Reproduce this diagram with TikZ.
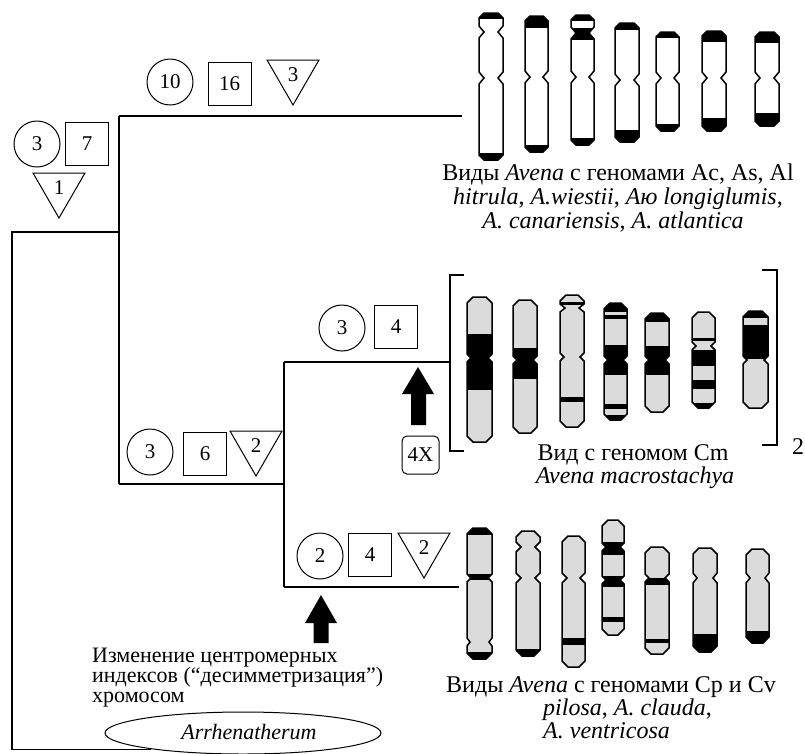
\documentclass[tikz,border=0pt]{standalone}
\usepackage{fontspec}
\setmainfont{Liberation Serif}
\usetikzlibrary{shapes.geometric}
\definecolor{cg}{gray}{0.86}
\tikzset{
  lab/.style={font=\fontsize{21}{21}\selectfont, inner sep=0pt},
  circ/.style={lab, draw, circle, minimum size=46pt, line width=1pt},
  sq/.style={lab, draw, minimum size=43pt, line width=1pt},
  tri/.style={lab, draw, regular polygon, regular polygon sides=3, shape border rotate=180, minimum size=60pt, line width=1pt},
  txt/.style={font=\fontsize{24}{24}\selectfont, inner sep=0pt},
  txtsmall/.style={font=\fontsize{22}{22}\selectfont, inner sep=0pt},
  tree/.style={line width=1.2pt},
  chromline/.style={line width=1.5pt, line join=miter},
  blockarrow/.style={fill=black},
}
\newcommand\chrom[8]{%
  \pgfmathsetmacro\cxl{#1}%
  \pgfmathsetmacro\cxr{#1+#2}%
  \pgfmathsetmacro\cxa{#1+#8}%
  \pgfmathsetmacro\cxb{#1+#2-#8}%
  \pgfmathsetmacro\cyt{#3}%
  \pgfmathsetmacro\cyb{#4}%
  \pgfmathsetmacro\cyta{#3+#8}%
  \pgfmathsetmacro\cybb{#4-#8}%
  \def\cnl{#5}%
  \foreach \a [count=\i] in {#5} {\ifnum\i=1 \xdef\crev{\a}\else\xdef\crev{\a,\crev}\fi}%
  \def\chpath{(\cxa,\cyt) -- (\cxb,\cyt) -- (\cxr,\cyta)
    foreach \ny/\nd/\nh in \cnl {-- (\cxr,\ny-\nh) -- (\cxr-\nd,\ny) -- (\cxr,\ny+\nh)}
    -- (\cxr,\cybb) -- (\cxb,\cyb) -- (\cxa,\cyb) -- (\cxl,\cybb)
    foreach \ny/\nd/\nh in \crev {-- (\cxl,\ny+\nh) -- (\cxl+\nd,\ny) -- (\cxl,\ny-\nh)}
    -- (\cxl,\cyta) -- cycle}%
  \fill[#7] \chpath;
  \begin{scope}
    \clip \chpath;
    \foreach \ba/\bb in {#6} {\fill[black] (\cxl-1,\ba) rectangle (\cxr+1,\bb);}
  \end{scope}
  \draw[chromline] \chpath;
}
\begin{document}
\begin{tikzpicture}[x=1pt,y=-1pt]
\fill[white] (0,0) rectangle (805,753);
\useasboundingbox (0,0) rectangle (805,753);

% ---- labels on branches
\node[circ] (c3a) at (37,144) {3};
\node[sq] (s7) at (87,144) {7};
\node[tri] (t1) at (59,188) {1};
\node[circ] (c10) at (170,82) {10};
\node[sq] (s16) at (229.5,83.5) {16};
\node[tri] (t3) at (293,75) {3};
\node[circ] (c3b) at (150,452) {3};
\node[sq] (s6) at (205,454) {6};
\node[tri] (t2a) at (256,446) {2};
\node[circ] (c3c) at (342,328) {3};
\node[sq] (s4a) at (396,327) {4};
\node[circ] (c2) at (320,556) {2};
\node[sq] (s4b) at (370,555) {4};
\node[tri] (t2b) at (424,548) {2};

% ---- tree
\node[draw, ellipse, minimum width=276pt, minimum height=42pt, inner sep=0pt, line width=1pt] (arr) at (243,733) {};
\node[anchor=base, inner sep=0pt, font=\fontsize{22}{22}\selectfont\itshape] (arrt) at (249,739) {Arrhenatherum};
\coordinate (nA) at (119,232);
\coordinate (nTop) at (119,116);
\coordinate (nMid) at (119,484);
\coordinate (eTop) at (462,116);
\coordinate (nC) at (284,484);
\coordinate (nCm) at (284,362);
\coordinate (nCp) at (284,587);
\coordinate (eCp) at (459,587);
\coordinate (eCm) at (450,362);
\draw[tree] (arr.190) -| (12,232) -- (nA);
\draw[tree] (nTop) -- (nMid);
\draw[tree] (nTop) -- (eTop);
\draw[tree] (nMid) -- (nC);
\draw[tree] (nCm) -- (nCp);
\draw[tree] (nCm) -- (eCm);
\draw[tree] (nCp) -- (eCp);

% brackets
\coordinate (bl1) at (464,275);
\coordinate (bl2) at (464,451);
\coordinate (br1) at (762,270);
\coordinate (br2) at (762,445);
\draw[tree] (bl1) -- (450,275) -- (450,451) -- (bl2);
\draw[tree] (br1) -- (777,270) -- (777,445) -- (br2);
\node[txt] (two) at (798,447) {2};

% block arrows
\fill[blockarrow] (418,367) -- (434,394) -- (426,394) -- (426,425) -- (411,425) -- (411,394) -- (402,394) -- cycle;
\node[lab, draw, rounded corners=5pt, minimum width=37pt, minimum height=38pt, line width=1pt] (x4) at (420.5,455) {4X};
\fill[blockarrow] (321,595) -- (337,623) -- (328.5,623) -- (328.5,643) -- (313.5,643) -- (313.5,623) -- (305,623) -- cycle;

% ---- chromosomes: top group
\chrom{479}{24}{13}{160}{32/5/6,78/5/6}{13/19,153/160}{white}{5}
\chrom{525}{23}{16}{152}{77/5/6}{16/28,145/152}{white}{5}
\chrom{571}{23}{15}{145}{33/5/6,77/5/6}{15/21,28/40,138/145}{white}{5}
\chrom{615}{24}{23}{142}{80/5/6}{23/30,130/142}{white}{5}
\chrom{656}{23}{32}{131}{78/5/6}{32/38,124/131}{white}{5}
\chrom{702}{24}{31}{131}{78/5/6}{31/42,118/131}{white}{5}
\chrom{755}{24}{32}{126}{78/5/6}{32/43,113/126}{white}{5}

% ---- Cm group
\chrom{467}{25}{297}{442}{358/4/4}{334/390}{cg}{6}
\chrom{513}{24}{300}{433}{360/4/4}{348/379}{cg}{6}
\chrom{560}{24}{295}{427}{308/5/4,357/4/4}{302/305,397/402}{cg}{6}
\chrom{604}{23}{303}{420}{360/4/4}{303/312,315/319,345/375,404/409,415/420}{cg}{6}
\chrom{645}{24}{313}{412}{360/4/4}{313/322,346/375}{cg}{6}
\chrom{692}{23}{312}{408}{346/4/4}{338/341,350/366,380/389,403/408}{cg}{6}
\chrom{743}{25}{311}{408}{360/4/4}{311/318,325/359}{cg}{6}

% ---- Cp/Cv group
\chrom{467}{25}{528}{659}{578/4/4,642/3/4}{528/535,574/580,652/659}{cg}{6}
\chrom{516}{24}{531}{656}{547/5/5,578/5/5}{649/656}{cg}{6}
\chrom{562}{23}{536}{667}{578/5/5}{638/645}{cg}{6}
\chrom{602}{22}{520}{635}{547/4/4,580/4/4}{542/555,576/587,617/622}{cg}{6}
\chrom{645}{24}{547}{654}{578/4/4}{578/585,639/643}{cg}{6}
\chrom{693}{24}{548}{652}{578/4/5}{634/652}{cg}{6}
\chrom{746}{23}{549}{643}{578/4/5}{631/643}{cg}{6}

% ---- texts
\node[txt, anchor=base] (a1) at (618,180) {Виды \textit{Avena} с геномами Ac, As, Al};
\node[txt, anchor=base] (a2) at (618,204) {\textit{hitrula}, \textit{A.wiestii}, \textit{Аю longiglumis},};
\node[txt, anchor=base] (a3) at (613,228) {\textit{A. canariensis}, \textit{A. atlantica}};
\node[txt, anchor=base] (m1) at (633,460) {Вид с геномом Cm};
\node[txt, anchor=base] (m2) at (635,483) {\textit{Avena macrostachya}};
\node[txt, anchor=base] (p1) at (611,692) {Виды \textit{Avena} с геномами Cp и Cv};
\node[txt, anchor=base west] (p2) at (543,715) {\textit{pilosa}, \textit{A. clauda},};
\node[txt, anchor=base west] (p3) at (543,738) {\textit{A. ventricosa}};
\node[txtsmall, anchor=base west] (l1) at (92,662) {Изменение центромерных};
\node[txtsmall, anchor=base west] (l2) at (92,682) {индексов (“десимметризация”)};
\node[txtsmall, anchor=base west] (l3) at (92,702) {хромосом};
\end{tikzpicture}
\end{document}
